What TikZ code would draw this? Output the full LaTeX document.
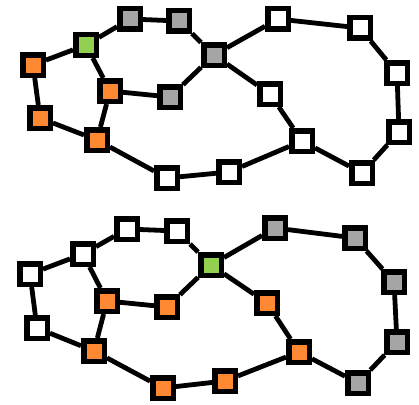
\documentclass[tikz,border=0pt]{standalone}
\definecolor{nodeorange}{HTML}{FF8833}
\definecolor{nodegray}{HTML}{A5A5A5}
\definecolor{nodegreen}{HTML}{92D050}
\tikzset{
  sq/.style={draw=black, line width=5.5pt, minimum size=20.5pt, inner sep=0pt, rectangle},
  wn/.style={sq, fill=white},
  on/.style={sq, fill=nodeorange},
  gn/.style={sq, fill=nodegray},
  grn/.style={sq, fill=nodegreen},
  edge/.style={line width=4.8pt, black},
}
\begin{document}
\begin{tikzpicture}[x=1pt,y=-1pt]
\useasboundingbox (0,0) rectangle (419,404);
% top graph
\node[on]  (tA) at (33,65) {};
\node[grn] (tG) at (86,45) {};
\node[gn]  (t1) at (130,19) {};
\node[gn]  (t2) at (179,21) {};
\node[gn]  (tH) at (214,55) {};
\node[on]  (tB) at (110,91) {};
\node[gn]  (t4) at (170,97) {};
\node[on]  (tC) at (40,118) {};
\node[on]  (tD) at (97,140) {};
\node[wn]  (tE) at (167,178) {};
\node[wn]  (tF) at (278,19) {};
\node[wn]  (tGG) at (360,28) {};
\node[wn]  (tHH) at (397,73) {};
\node[wn]  (tI) at (270,94) {};
\node[wn]  (tJ) at (302,141) {};
\node[wn]  (tK) at (399,132) {};
\node[wn]  (tL) at (362,173) {};
\node[wn]  (tM) at (229,172) {};
% bottom graph
\node[wn]  (ba) at (30,274) {};
\node[wn]  (bb) at (83,254) {};
\node[wn]  (bc) at (127,229) {};
\node[wn]  (bd) at (177,231) {};
\node[grn] (bH) at (211,265) {};
\node[on]  (bB) at (107,301) {};
\node[on]  (b4) at (167,307) {};
\node[wn]  (bC) at (37,328) {};
\node[on]  (bD) at (94,351) {};
\node[on]  (bE) at (163,388) {};
\node[gn]  (bF) at (275,228) {};
\node[gn]  (bGG) at (355,238) {};
\node[gn]  (bHH) at (394,282) {};
\node[on]  (bI) at (267,303) {};
\node[on]  (bJ) at (299,352) {};
\node[gn]  (bK) at (397,342) {};
\node[gn]  (bL) at (358,383) {};
\node[on]  (bM) at (225,381) {};
% edges top
\draw[edge] (tA) -- (tG) (tG) -- (t1) (t1) -- (t2) (t2) -- (tH) (tH) -- (tF)
  (tF) -- (tGG) (tGG) -- (tHH) (tHH) -- (tK) (tK) -- (tL) (tL) -- (tJ)
  (tJ) -- (tI) (tI) -- (tH) (tH) -- (t4) (t4) -- (tB) (tB) -- (tG)
  (tB) -- (tD) (tA) -- (tC) (tC) -- (tD) (tD) -- (tE) (tE) -- (tM) (tM) -- (tJ);
% edges bottom
\draw[edge] (ba) -- (bb) (bb) -- (bc) (bc) -- (bd) (bd) -- (bH) (bH) -- (bF)
  (bF) -- (bGG) (bGG) -- (bHH) (bHH) -- (bK) (bK) -- (bL) (bL) -- (bJ)
  (bJ) -- (bI) (bI) -- (bH) (bH) -- (b4) (b4) -- (bB) (bB) -- (bb)
  (bB) -- (bD) (ba) -- (bC) (bC) -- (bD) (bD) -- (bE) (bE) -- (bM) (bM) -- (bJ);
% redraw nodes above the edge ends
\foreach \n/\s in {tA/on,tG/grn,t1/gn,t2/gn,tH/gn,tB/on,t4/gn,tC/on,tD/on,tE/wn,tF/wn,tGG/wn,tHH/wn,tI/wn,tJ/wn,tK/wn,tL/wn,tM/wn,
  ba/wn,bb/wn,bc/wn,bd/wn,bH/grn,bB/on,b4/on,bC/wn,bD/on,bE/on,bF/gn,bGG/gn,bHH/gn,bI/on,bJ/on,bK/gn,bL/gn,bM/on}
  \node[\s] at (\n) {};
\end{tikzpicture}
\end{document}
